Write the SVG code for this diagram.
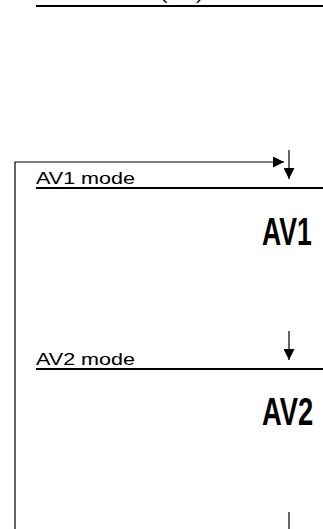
<svg xmlns="http://www.w3.org/2000/svg" width="323" height="529" viewBox="0 0 323 529">
<style>
.bg{fill:#fff}
.label{font-family:"Liberation Sans",Arial,Helvetica,sans-serif;font-size:17px;fill:#000}
.big{font-family:"Liberation Sans",Arial,Helvetica,sans-serif;font-size:38px;font-weight:bold;fill:#000}
.rule{stroke:#000;stroke-width:2;fill:none}
.wire{stroke:#000;stroke-width:1.2;fill:none}
</style>
<defs>
<marker id="ah" viewBox="0 0 10 10" refX="10" refY="5" markerWidth="11" markerHeight="11" markerUnits="userSpaceOnUse" orient="auto">
<path d="M0,0 L10,5 L0,10 Z" fill="#000"/>
</marker>
</defs>
<rect class="bg" x="0" y="0" width="323" height="529"/>
<g id="node-top">
<text class="label" x="36" y="0.2" textLength="167" lengthAdjust="spacingAndGlyphs">Tuner mode (TV)</text>
<line class="rule" x1="36" y1="6" x2="323" y2="6"/>
</g>
<g id="node-av1">
<text class="label" x="36" y="183.5" textLength="99" lengthAdjust="spacingAndGlyphs">AV1 mode</text>
<line class="rule" x1="36" y1="188" x2="323" y2="188"/>
<text class="big" transform="translate(262,245) scale(0.7,1)">AV1</text>
</g>
<g id="node-av2">
<text class="label" x="36" y="364.5" textLength="99" lengthAdjust="spacingAndGlyphs">AV2 mode</text>
<line class="rule" x1="36" y1="369" x2="323" y2="369"/>
<text class="big" transform="translate(262,425) scale(0.72,1)">AV2</text>
</g>
<g id="connectors">
<path class="wire" d="M15,529 V162 H284" marker-end="url(#ah)"/>
<path class="wire" d="M289,150 V179" marker-end="url(#ah)"/>
<path class="wire" d="M289,331 V360" marker-end="url(#ah)"/>
<path class="wire" d="M289,512 V529"/>
</g>
</svg>
